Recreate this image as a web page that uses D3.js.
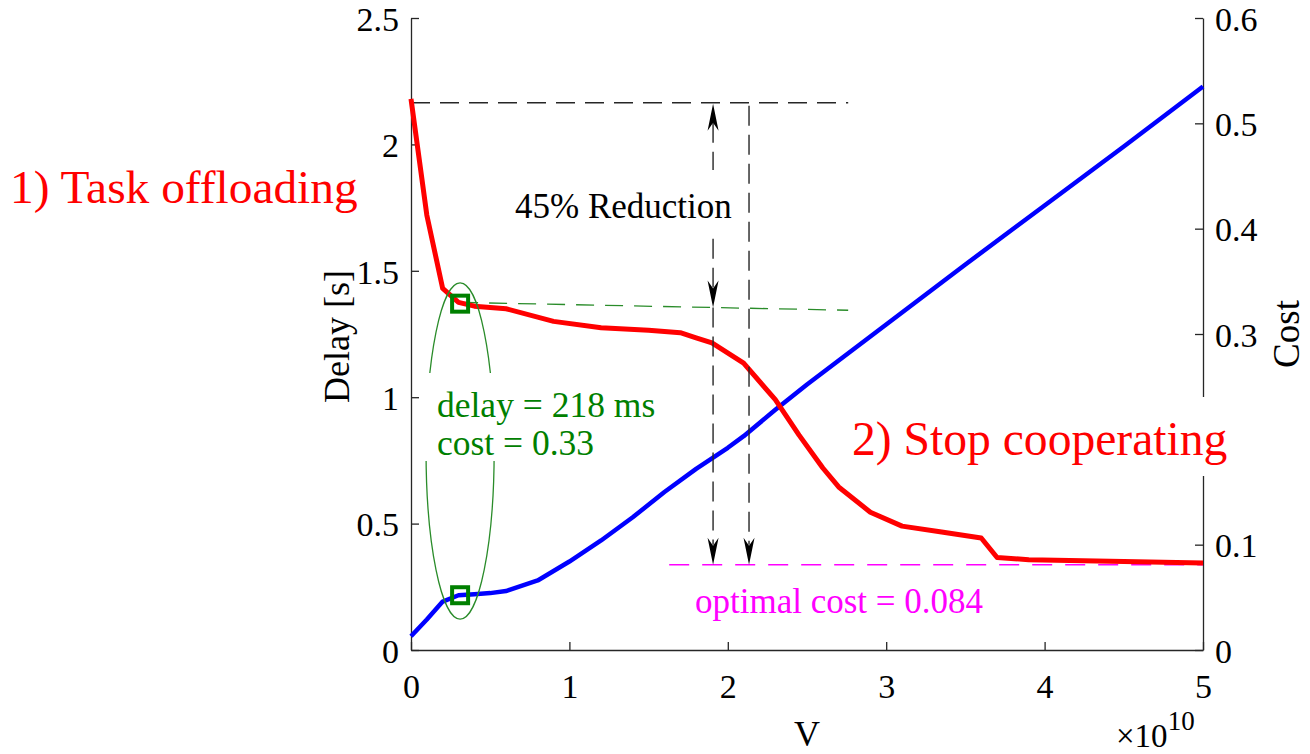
<!DOCTYPE html>
<html>
<head>
<meta charset="utf-8">
<script src="https://cdn.jsdelivr.net/npm/d3@7"></script>
<style>
  body { margin: 0; background: #fff; }
  svg { display: block; font-family: "Liberation Serif", "Times New Roman", serif; }
</style>
</head>
<body>
<svg id="chart"></svg>
<script>
// data (V in units of 1e10)
const delayV = [0, 0.1, 0.2, 0.3, 0.4, 0.6, 0.9, 1.2, 1.5, 1.7, 1.8, 1.9, 2.1, 2.3, 2.45, 2.6, 2.7, 2.9, 3.1, 3.35, 3.6, 3.7, 3.9, 4.5, 5.0];
const delayS = [2.18, 1.72, 1.43, 1.375, 1.36, 1.35, 1.30, 1.275, 1.265, 1.255, 1.235, 1.215, 1.135, 0.99, 0.85, 0.72, 0.645, 0.545, 0.49, 0.467, 0.443, 0.366, 0.357, 0.35, 0.344];

const costV = [0, 0.1, 0.2, 0.3, 0.4, 0.5, 0.6, 0.8, 1.0, 1.2, 1.4, 1.6, 1.8, 2.0, 2.1, 2.3, 2.5, 3.0, 3.5, 4.0, 4.5, 5.0];
const costC = [0.013, 0.029, 0.046, 0.052, 0.053, 0.054, 0.056, 0.066, 0.084, 0.104, 0.126, 0.150, 0.172, 0.192, 0.203, 0.228, 0.252, 0.309, 0.366, 0.422, 0.478, 0.535];

const xTicks = [0, 1, 2, 3, 4, 5];
const delayTicks = [0, 0.5, 1, 1.5, 2, 2.5];
const costTicks = [0, 0.1, 0.2, 0.3, 0.4, 0.5, 0.6];
const hiddenCostLabel = 0.2; // covered by the "Stop cooperating" text box

// annotation values
const markV = 0.31;                 // chosen operating point
const markDelay = 1.37, markCost = 0.052;
const topDelay = 2.165;             // initial delay reference line
const greenLine = [[0.31, 1.375], [2.76, 1.344]];
const optimalCost = 0.081;          // magenta line
const optimalFrom = 1.63;
const refLineEnd = 2.76;
const arrowV = [1.907, 2.134];
const ellipse = { v: 0.31, delay: 0.787, rv: 0.215, rd: 0.665 };

const W = 1310, H = 754;
const svg = d3.select("#chart").attr("width", W).attr("height", H);

const x = d3.scaleLinear().domain([0, 5]).range([411, 1203]);
const yL = d3.scaleLinear().domain([0, 2.5]).range([650, 18]);
const yR = d3.scaleLinear().domain([0, 0.6]).range([650, 18]);

const axisColor = "#262626";
const tickFont = "34px";

// axes
const gx = svg.append("g").attr("transform", `translate(0,${yL(0)})`)
  .call(d3.axisBottom(x).tickValues(xTicks).tickFormat(d => String(d))
    .tickSizeInner(-8).tickSizeOuter(0).tickPadding(48));
const gl = svg.append("g").attr("transform", `translate(${x(0)},0)`)
  .call(d3.axisLeft(yL).tickValues(delayTicks).tickFormat(d => String(d))
    .tickSizeInner(-8).tickSizeOuter(0).tickPadding(12));
const gr = svg.append("g").attr("transform", `translate(${x(5)},0)`)
  .call(d3.axisRight(yR).tickValues(costTicks)
    .tickFormat(d => d === hiddenCostLabel ? "" : String(d))
    .tickSizeInner(-8).tickSizeOuter(0).tickPadding(12));

[gx, gl, gr].forEach(g => {
  g.selectAll("path, line").attr("stroke", axisColor).attr("stroke-width", 1.3);
  g.selectAll("text").attr("fill", "#000").style("font-size", tickFont)
    .style("font-family", "Liberation Serif, Times New Roman, serif");
});
gl.selectAll("text").attr("dy", "0.36em");
gr.selectAll("text").attr("dy", "0.36em");
gx.selectAll("text").attr("dy", "0");

// axis titles
svg.append("text").attr("x", x(2.5)).attr("y", 746).attr("text-anchor", "middle")
  .style("font-size", "36px").text("V");
const expo = svg.append("text").attr("x", 1116).attr("y", 747).style("font-size", "33px");
expo.append("tspan").text("\u00d710");
expo.append("tspan").attr("dy", -17).style("font-size", "27px").text("10");
svg.append("text").attr("transform", `translate(349,${yL(1.24)}) rotate(-90)`)
  .attr("text-anchor", "middle").style("font-size", "36px").text("Delay [s]");
svg.append("text").attr("transform", `translate(1299,${yR(0.3)}) rotate(-90)`)
  .attr("text-anchor", "middle").style("font-size", "37px").text("Cost");

// reference dashed lines
const black = "#262626";
svg.append("line")
  .attr("x1", x(0)).attr("x2", x(refLineEnd)).attr("y1", yL(topDelay)).attr("y2", yL(topDelay))
  .attr("stroke", black).attr("stroke-width", 1.4).attr("stroke-dasharray", "19,10");
svg.append("line")
  .attr("x1", x(greenLine[0][0])).attr("y1", yL(greenLine[0][1]))
  .attr("x2", x(greenLine[1][0])).attr("y2", yL(greenLine[1][1]))
  .attr("stroke", "#2a8c2a").attr("stroke-width", 1.3).attr("stroke-dasharray", "18,11");
svg.append("line")
  .attr("x1", x(optimalFrom)).attr("x2", x(5)).attr("y1", yR(optimalCost)).attr("y2", yR(optimalCost))
  .attr("stroke", "#ff00ff").attr("stroke-width", 1.4).attr("stroke-dasharray", "20,13");

// curves
const lineDelay = d3.line().x((d, i) => x(delayV[i])).y(d => yL(d));
const lineCost = d3.line().x((d, i) => x(costV[i])).y(d => yR(d));
svg.append("path").datum(costC).attr("d", lineCost)
  .attr("fill", "none").attr("stroke", "#0000ff").attr("stroke-width", 4.5).attr("stroke-linejoin", "round");
svg.append("path").datum(delayS).attr("d", lineDelay)
  .attr("fill", "none").attr("stroke", "#ff0000").attr("stroke-width", 5).attr("stroke-linejoin", "round");

// arrows
function greenAt(v) {
  const t = (v - greenLine[0][0]) / (greenLine[1][0] - greenLine[0][0]);
  return greenLine[0][1] + t * (greenLine[1][1] - greenLine[0][1]);
}
function head(px, py, dir) {
  // dir = -1 points up, 1 points down
  const p = d3.path();
  p.moveTo(px, py);
  p.lineTo(px - 5.5, py - dir * 27);
  p.lineTo(px, py - dir * 19);
  p.lineTo(px + 5.5, py - dir * 27);
  p.closePath();
  svg.append("path").attr("d", p.toString()).attr("fill", "#000");
}
function vdash(px, y1, y2) {
  svg.append("line").attr("x1", px).attr("x2", px).attr("y1", y1).attr("y2", y2)
    .attr("stroke", black).attr("stroke-width", 1.4).attr("stroke-dasharray", "20,9");
}
const ax1 = x(arrowV[0]), ax2 = x(arrowV[1]);
const yTop = yL(topDelay), yGreen = yL(greenAt(arrowV[0])), yOpt = yR(optimalCost);
vdash(ax1, yTop + 20, yGreen - 20);
head(ax1, yTop + 1, -1);
head(ax1, yGreen, 1);
vdash(ax1, yGreen, yOpt - 20);
head(ax1, yOpt, 1);
vdash(ax2, yTop + 3, yOpt - 20);
head(ax2, yOpt, 1);

// operating point: ellipse and squares
svg.append("ellipse")
  .attr("cx", x(ellipse.v)).attr("cy", yL(ellipse.delay))
  .attr("rx", x(ellipse.rv) - x(0)).attr("ry", yL(0) - yL(ellipse.rd))
  .attr("fill", "none").attr("stroke", "#2a8c2a").attr("stroke-width", 1.3);
[[x(markV), yL(markDelay)], [x(markV), yR(markCost)]].forEach(([cx, cy]) => {
  svg.append("rect").attr("x", cx - 8).attr("y", cy - 8).attr("width", 16).attr("height", 16)
    .attr("fill", "none").attr("stroke", "#008000").attr("stroke-width", 4);
});

// text boxes with white backgrounds
function box(x0, y0, w, h) {
  svg.append("rect").attr("x", x0).attr("y", y0).attr("width", w).attr("height", h).attr("fill", "#fff");
}
box(508, 170, 234, 63);
svg.append("text").attr("x", 515).attr("y", 218).style("font-size", "35px").attr("fill", "#000")
  .text("45% Reduction");

box(425, 373, 240, 88);
svg.append("text").attr("x", 437).attr("y", 417).style("font-size", "35.5px").attr("fill", "#008000")
  .text("delay = 218 ms");
svg.append("text").attr("x", 437).attr("y", 455).style("font-size", "35.5px").attr("fill", "#008000")
  .text("cost = 0.33");

box(836, 397, 428, 79);
svg.append("text").attr("x", 852).attr("y", 455).style("font-size", "47.6px").attr("fill", "#ff0000")
  .text("2) Stop cooperating");

svg.append("text").attr("x", 10).attr("y", 203).style("font-size", "47.4px").attr("fill", "#ff0000")
  .text("1) Task offloading");

svg.append("text").attr("x", 695).attr("y", 613).style("font-size", "35px").attr("fill", "#ff00ff")
  .text("optimal cost = 0.084");
</script>
</body>
</html>
